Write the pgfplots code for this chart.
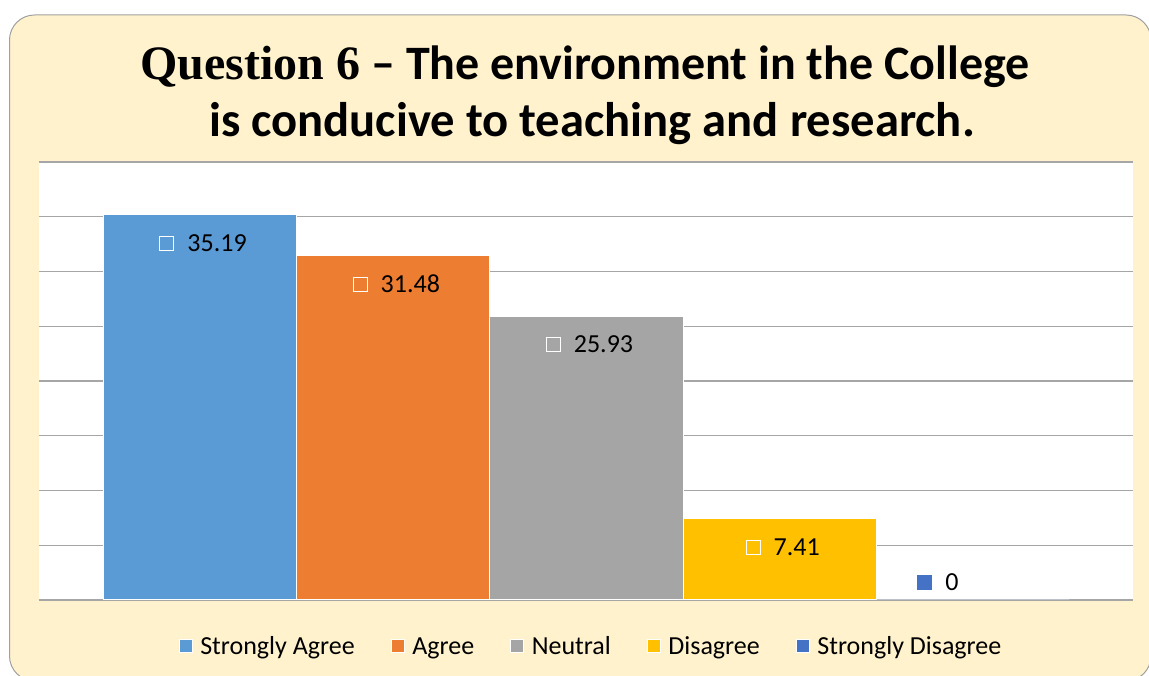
\documentclass[border=0pt]{standalone}
\usepackage{pgfplots}
\pgfplotsset{compat=1.18}
\usepackage{fontspec}
\setmainfont{Carlito}
\newfontfamily\timesb{Liberation Serif}
\definecolor{bgc}{HTML}{FFF2CC}
\definecolor{c1}{HTML}{5B9BD5}
\definecolor{c2}{HTML}{ED7D31}
\definecolor{c3}{HTML}{A5A5A5}
\definecolor{c4}{HTML}{FFC000}
\definecolor{c5}{HTML}{4472C4}
\definecolor{gridc}{HTML}{A6A6A6}
\definecolor{bordc}{HTML}{A0A0A0}
\newcommand{\sq}[2]{{\setlength{\fboxsep}{0pt}\setlength{\fboxrule}{1pt}\raisebox{1pt}{\fcolorbox{#1}{#2}{\rule{0pt}{13pt}\rule{13pt}{0pt}}}}}
\begin{document}
\begin{tikzpicture}[x=1pt,y=1pt]
\useasboundingbox (0,0) rectangle (1149,676);
\fill[white] (0,0) rectangle (1149,676);
\clip (0,0) rectangle (1149,676);
\filldraw[fill=bgc, draw=bordc, line width=1pt, rounded corners=25pt] (9.5,-5) rectangle (1151,661);
\node[anchor=base, inner sep=0pt, font=\fontsize{48}{56}\selectfont] at (585,596) {{\timesb\bfseries Question 6} \textbf{– The environment in the College}};
\node[anchor=base, inner sep=0pt, font=\fontsize{48.6}{56}\selectfont\bfseries] at (592,539) {is conducive to teaching and research.};
\begin{axis}[
  at={(39pt,76pt)}, anchor=south west,
  width=1094pt, height=438pt, scale only axis,
  xmin=0.166, xmax=5.829, ymin=0, ymax=40,
  ytick={0,5,...,40}, yticklabels={}, xtick=\empty,
  ymajorgrids, grid style={draw=gridc, line width=1.2pt},
  axis line style={draw=none}, major tick length=0pt,
  axis background/.style={fill=white},
  clip=false,
  /pgf/number format/assume math mode=true,
  legend columns=5,
  legend style={draw=none, fill=none, at={(axis description cs:0.5,0)}, anchor=center, yshift=-46pt, xshift=4pt,
    font=\fontsize{26}{30}\selectfont, inner sep=0pt,
    nodes={inner sep=0pt, anchor=base west},
    /tikz/every even column/.append style={column sep=36pt},
    /tikz/every odd column/.append style={column sep=8pt}},
  legend image code/.code={\filldraw[#1, draw=white, line width=0.6pt] (0pt,1.5pt) rectangle (13pt,14.5pt);},
  every node near coord/.append style={font=\fontsize{26}{30}\selectfont, text=black, anchor=center, inner sep=0pt},
]
\addplot[ybar, bar width=1, bar shift=0pt, fill=c1, draw=white, line width=1pt,
  nodes near coords={\sq{white}{c1}\hspace{13pt}\pgfmathprintnumber{\pgfplotspointmeta}},
  every node near coord/.append style={anchor=center, yshift=-28pt, xshift=3pt}] coordinates {(1,35.19)};
\addlegendentry{Strongly Agree}
\addplot[ybar, bar width=1, bar shift=0pt, fill=c2, draw=white, line width=1pt,
  nodes near coords={\sq{white}{c2}\hspace{13pt}\pgfmathprintnumber{\pgfplotspointmeta}},
  every node near coord/.append style={anchor=center, yshift=-28pt, xshift=3pt}] coordinates {(2,31.48)};
\addlegendentry{Agree}
\addplot[ybar, bar width=1, bar shift=0pt, fill=c3, draw=white, line width=1pt,
  nodes near coords={\sq{white}{c3}\hspace{13pt}\pgfmathprintnumber{\pgfplotspointmeta}},
  every node near coord/.append style={anchor=center, yshift=-28pt, xshift=3pt}] coordinates {(3,25.93)};
\addlegendentry{Neutral}
\addplot[ybar, bar width=1, bar shift=0pt, fill=c4, draw=white, line width=1pt,
  nodes near coords={\sq{white}{c4}\hspace{13pt}\pgfmathprintnumber{\pgfplotspointmeta}},
  every node near coord/.append style={anchor=center, yshift=-28pt, xshift=3pt}] coordinates {(4,7.41)};
\addlegendentry{Disagree}
\addplot[ybar, bar width=1, bar shift=0pt, fill=c5, draw=white, line width=1pt,
  nodes near coords={\sq{c5}{c5}\hspace{13pt}\pgfmathprintnumber{\pgfplotspointmeta}},
  every node near coord/.append style={anchor=center, yshift=18pt, xshift=-35pt}] coordinates {(5,0)};
\addlegendentry{Strongly Disagree}
\end{axis}
\end{tikzpicture}
\end{document}
